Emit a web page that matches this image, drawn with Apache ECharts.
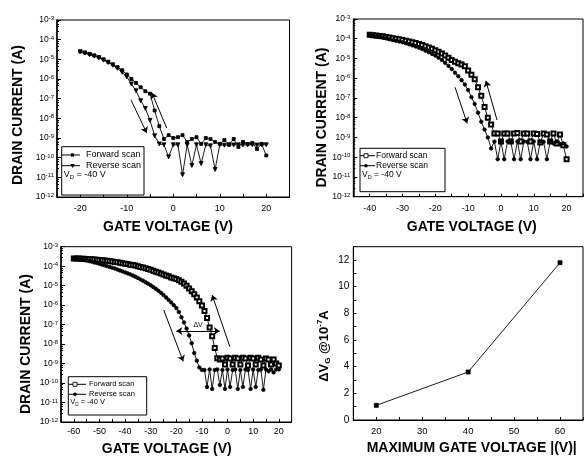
<!DOCTYPE html>
<html><head><meta charset="utf-8">
<script src="https://cdn.jsdelivr.net/npm/echarts@6/dist/echarts.min.js"></script>
<style>html,body{margin:0;padding:0;background:#fff}#c{width:586px;height:457px}</style>
</head><body><div id="c"></div>
<script>
// ---------- data ----------
const gateV1 = [-20,-19,-18,-17,-16,-15,-14,-13,-12,-11,-10,-9,-8,-7,-6,-5,-4,-3,-2,-1,0,1,2,3,4,5,6,7,8,9,10,11,12,13,14,15,16,17,18,19,20];
const fwd1 = [2.5e-5,2.2e-5,1.9e-5,1.6e-5,1.3e-5,1.0e-5,7.6e-6,5.6e-6,4.0e-6,2.8e-6,1.7e-6,1.0e-6,6.3e-7,3.8e-7,2.4e-7,1.8e-7,2.5e-8,4.0e-9,8.9e-10,1.4e-9,
  1.0e-9,1.1e-9,1.4e-9,6.3e-10,8.9e-10,1.1e-9,5.0e-10,1.0e-9,8.9e-10,6.3e-10,5.0e-10,7.9e-10,4.5e-10,8.9e-10,3.5e-10,6.3e-10,5.0e-10,5.6e-10,2.8e-10,5.0e-10,1.3e-10];
const rev1 = [2.4e-5,2.1e-5,1.7e-5,1.45e-5,1.2e-5,9.1e-6,6.9e-6,5.0e-6,3.5e-6,2.2e-6,1.3e-6,5.6e-7,2.5e-7,7.9e-8,3.2e-8,7.9e-9,1.3e-9,5.0e-10,4.5e-10,1.1e-10,
  4.5e-10,4.5e-10,1.35e-11,4.5e-10,4.0e-11,4.5e-10,5.0e-11,4.5e-10,4.0e-10,2.5e-11,4.5e-10,4.3e-10,4.5e-10,4.4e-10,4.5e-10,4.4e-10,4.5e-10,4.5e-10,4.4e-10,4.5e-10,4.5e-10];

const gateV2 = [-40,-39,-38,-37,-36,-35,-34,-33,-32,-31,-30,-29,-28,-27,-26,-25,-24,-23,-22,-21,-20,-19,-18,-17,-16,-15,-14,-13,-12,-11,-10,-9,-8,-7,-6,-5,-4,-3,-2,-1,0,1,2,3,4,5,6,7,8,9,10,11,12,13,14,15,16,17,18,19,20];
const fwd2 = [1.6e-4,1.5e-4,1.45e-4,1.38e-4,1.32e-4,1.23e-4,1.15e-4,1.07e-4,1.0e-4,9.3e-5,
  8.7e-5,7.9e-5,7.2e-5,6.6e-5,6.0e-5,5.4e-5,4.8e-5,4.2e-5,3.6e-5,3.1e-5,
  2.6e-5,2.2e-5,1.8e-5,1.4e-5,1.1e-5,8.3e-6,6.9e-6,5.8e-6,5.0e-6,4.0e-6,
  2.5e-6,1.5e-6,8.9e-7,3.5e-7,1.3e-7,3.5e-8,1.0e-8,4.5e-9,1.6e-9,1.6e-9,
  6.3e-10,1.6e-9,1.6e-9,6.3e-10,1.6e-9,1.7e-9,6.3e-10,1.6e-9,1.6e-9,6.3e-10,1.6e-9,1.5e-9,5.6e-10,1.6e-9,1.4e-9,6.3e-10,1.6e-9,5.0e-10,1.4e-9,4.0e-10,7.9e-11];
const rev2 = [1.5e-4,1.4e-4,1.3e-4,1.23e-4,1.15e-4,1.05e-4,9.5e-5,8.7e-5,7.9e-5,7.2e-5,
  6.6e-5,5.9e-5,5.2e-5,4.6e-5,4.0e-5,3.5e-5,3.0e-5,2.5e-5,2.1e-5,1.7e-5,
  1.4e-5,1.1e-5,8.3e-6,6.0e-6,4.2e-6,2.9e-6,1.9e-6,1.26e-6,7.9e-7,4.8e-7,
  2.5e-7,1.1e-7,5.0e-8,1.8e-8,6.3e-9,2.5e-9,1.0e-9,2.8e-10,6.2e-10,7.9e-11,
  6.2e-10,7.9e-11,6.3e-10,6.0e-10,7.9e-11,6.3e-10,7.9e-11,6.3e-10,6.0e-10,7.9e-11,6.3e-10,7.9e-11,6.3e-10,6.0e-10,7.9e-11,6.3e-10,5.0e-10,6.3e-10,4.5e-10,5.0e-10,3.5e-10];

const gateV3 = [-60,-59,-58,-57,-56,-55,-54,-53,-52,-51,-50,-49,-48,-47,-46,-45,-44,-43,-42,-41,-40,-39,-38,-37,-36,-35,-34,-33,-32,-31,-30,-29,-28,-27,-26,-25,-24,-23,-22,-21,-20,-19,-18,-17,-16,-15,-14,-13,-12,-11,-10,-9,-8,-7,-6,-5,-4,-3,-2,-1,0,1,2,3,4,5,6,7,8,9,10,11,12,13,14,15,16,17,18,19,20];
const fwd3 = [2.5e-4,2.45e-4,2.45e-4,2.4e-4,2.4e-4,2.35e-4,2.3e-4,2.24e-4,2.2e-4,2.14e-4,
  2.1e-4,2.04e-4,1.95e-4,1.9e-4,1.82e-4,1.74e-4,1.66e-4,1.58e-4,1.51e-4,1.41e-4,
  1.35e-4,1.29e-4,1.2e-4,1.15e-4,1.07e-4,1.0e-4,9.1e-5,8.5e-5,7.8e-5,7.1e-5,
  6.5e-5,5.9e-5,5.2e-5,4.7e-5,4.2e-5,3.7e-5,3.3e-5,3.0e-5,2.6e-5,2.4e-5,
  2.2e-5,1.9e-5,1.6e-5,1.3e-5,1.0e-5,7.2e-6,5.2e-6,3.6e-6,2.5e-6,1.6e-6,
  9.5e-7,5.0e-7,2.2e-7,7.1e-8,2.5e-8,6.3e-9,1.9e-9,1.6e-9,1.8e-9,8.9e-10,
  2.0e-9,1.8e-9,8.9e-10,2.0e-9,1.8e-9,8.9e-10,2.0e-9,1.8e-9,7.9e-10,2.0e-9,1.8e-9,8.9e-10,2.0e-9,1.6e-9,7.9e-10,1.8e-9,1.6e-9,8.9e-10,1.6e-9,1.0e-9,7.9e-10];
const rev3 = [2.4e-4,2.35e-4,2.24e-4,2.14e-4,2.04e-4,1.95e-4,1.82e-4,1.7e-4,1.55e-4,1.45e-4,
  1.32e-4,1.2e-4,1.1e-4,1.0e-4,9.1e-5,8.3e-5,7.6e-5,6.8e-5,6.0e-5,5.4e-5,
  4.8e-5,4.3e-5,3.8e-5,3.3e-5,2.9e-5,2.5e-5,2.1e-5,1.8e-5,1.5e-5,1.26e-5,
  1.05e-5,8.5e-6,6.9e-6,5.5e-6,4.3e-6,3.3e-6,2.5e-6,1.86e-6,1.38e-6,1.0e-6,
  7.1e-7,4.5e-7,2.4e-7,1.3e-7,6.3e-8,2.8e-8,1.1e-8,3.5e-9,1.4e-9,6.3e-10,
  4.7e-10,4.7e-10,6.3e-11,5.0e-10,5.0e-11,4.7e-10,5.0e-10,7.9e-11,4.7e-10,5.0e-11,
  5.0e-10,6.3e-11,4.7e-10,5.0e-10,5.0e-11,4.7e-10,6.3e-11,5.0e-10,4.7e-10,5.0e-11,5.0e-10,6.3e-11,4.7e-10,5.0e-10,4.5e-11,5.0e-10,4.0e-10,5.0e-10,3.5e-10,5.0e-10,5.0e-10];

const maxGateV = [20, 40, 60];
const deltaVg = [1.1, 3.6, 11.8];

// annotation arrows (data coordinates: [V, I])
const arrows1 = [[[-9.1, 8.7e-8], [-5.7, 1.8e-9]], [[-1.4, 3.2e-9], [-4.6, 2.0e-7]]];
const arrows2 = [[[-14, 3.5e-7], [-10.3, 5.2e-9]], [[-1.2, 7.6e-9], [-4.6, 7.4e-7]]];
const arrows3 = [[[-24.9, 5.6e-7], [-17.3, 1.3e-9]], [[0.9, 7.4e-9], [-6, 3.3e-6]]];
const dvLine3 = [[-20, 4.7e-8], [-3, 4.7e-8]];

const legendNames = ['Forward scan', 'Reverse scan'];
const vdText = '-40 V';

// ---------- chart ----------
const FONT = 'Liberation Sans, Arial, sans-serif';
const chart = echarts.init(document.getElementById('c'));
const pair = (xs, ys) => xs.map((x, i) => [x, ys[i]]);

function logY(gi) {
  return {
    type: 'log', logBase: 10, min: 1e-12, max: 1e-3, splitNumber: 9, gridIndex: gi,
    axisLine: { show: true, onZero: false, lineStyle: { color: '#000', width: 1.5 } },
    axisTick: { inside: true, length: 4, lineStyle: { color: '#000' } },
    minorTick: { show: true, splitNumber: 5, length: 2, lineStyle: { color: '#000' } },
    splitLine: { show: false },
    axisLabel: {
      margin: 3, color: '#000', fontFamily: FONT,
      formatter: v => '{b|10}{s|' + Math.round(Math.log10(v)) + '}',
      rich: {
        b: { fontSize: 8.5, fontFamily: FONT, color: '#000', lineHeight: 9, verticalAlign: 'bottom' },
        s: { fontSize: 6, fontFamily: FONT, color: '#000', lineHeight: 6, padding: [0, 0, 5, 0], verticalAlign: 'top' }
      }
    }
  };
}
function linX(gi, min, max, fs, margin) {
  return {
    type: 'value', gridIndex: gi, min: min, max: max, interval: 5,
    axisLine: { onZero: false, lineStyle: { color: '#000' } },
    axisTick: { inside: true, length: 3, lineStyle: { color: '#000' } },
    splitLine: { show: false },
    axisLabel: { margin: margin, fontSize: fs, fontFamily: FONT, color: '#000',
      formatter: v => (v % 10 === 0 ? String(v) : '') }
  };
}
function arrowLines(list) {
  return list.map(a => [{ coord: a[0], symbol: 'none' }, { coord: a[1], symbol: 'arrow' }]);
}
function curve(name, gi, xs, ys, sym, size, rot, extra) {
  const s = {
    type: 'line', name: name, xAxisIndex: gi, yAxisIndex: gi, data: pair(xs, ys),
    symbol: sym, symbolSize: size, symbolRotate: rot || 0, showAllSymbol: true,
    lineStyle: { color: '#000', width: 0.9 }, itemStyle: { color: '#000', borderColor: '#000', borderWidth: 0.8 },
    emphasis: { disabled: true }, animation: false
  };
  if (extra) s.markLine = extra;
  return s;
}
function mk(list, more) {
  return {
    silent: true, animation: false, symbolSize: 6,
    lineStyle: { color: '#000', width: 1, type: 'solid' },
    label: { show: false },
    emphasis: { disabled: true },
    data: arrowLines(list).concat(more || [])
  };
}

// legend graphics
function marker(kind, cx, cy) {
  if (kind === 'rectFill') return { type: 'rect', shape: { x: cx - 1.6, y: cy - 1.6, width: 3.2, height: 3.2 }, style: { fill: '#000' } };
  if (kind === 'rectEmpty') return { type: 'rect', shape: { x: cx - 2, y: cy - 2, width: 4, height: 4 }, style: { fill: '#fff', stroke: '#000', lineWidth: 0.9 } };
  if (kind === 'circle') return { type: 'circle', shape: { cx: cx, cy: cy, r: 1.8 }, style: { fill: '#000' } };
  return { type: 'polygon', shape: { points: [[cx - 2.2, cy - 1.6], [cx + 2.2, cy - 1.6], [cx, cy + 2.2]] }, style: { fill: '#000' } };
}
function legendBox(b, rows, lineX, markX, textX, fs, kinds) {
  const els = [{ type: 'rect', shape: { x: b[0], y: b[1], width: b[2], height: b[3] }, style: { fill: '#fff', stroke: '#000', lineWidth: 1 }, z: 100 }];
  for (let i = 0; i < 2; i++) {
    els.push({ type: 'line', shape: { x1: lineX[0], y1: rows[i], x2: lineX[1], y2: rows[i] }, style: { stroke: '#000', lineWidth: 1 }, z: 101 });
    const m = marker(kinds[i], markX, rows[i]); m.z = 102; els.push(m);
    els.push({ type: 'text', x: textX, y: rows[i], z: 102, style: { text: legendNames[i], fontSize: fs, fontFamily: FONT, fill: '#000', verticalAlign: 'middle', align: 'left' } });
  }
  els.push({ type: 'text', x: b[0] + 2, y: rows[2], z: 102, style: {
    text: '{b|V}{sub|D}{b| = ' + vdText + '}', verticalAlign: 'middle', align: 'left', fill: '#000',
    rich: { b: { fontSize: fs, fontFamily: FONT, fill: '#000', lineHeight: 10, verticalAlign: 'top' },
            sub: { fontSize: fs - 3, fontFamily: FONT, fill: '#000', lineHeight: 6, padding: [4, 0, 0, 0], verticalAlign: 'top' } } } });
  return els;
}
function title(text, x, y, rotate, fs) {
  return { type: 'text', x: x, y: y, rotation: rotate ? Math.PI / 2 : 0, z: 50,
    style: { text: text, fontSize: fs || 14, fontWeight: 'bold', fontFamily: FONT, fill: '#000', align: 'center', verticalAlign: 'middle' } };
}

const grids = [
  { left: 57, top: 20, width: 232.5, height: 177 },
  { left: 353.3, top: 19, width: 242.2, height: 177.7 },
  { left: 61, top: 246.7, width: 230.6, height: 175.3 },
  { left: 353.3, top: 246.7, width: 238.5, height: 173.3 }
].map(g => Object.assign({ show: true, borderColor: '#000', borderWidth: 1, backgroundColor: 'transparent', containLabel: false }, g));

const y4 = {
  type: 'value', gridIndex: 3, min: 0, max: 13, interval: 1,
  axisLine: { show: true, onZero: false, lineStyle: { color: '#000' } },
  axisTick: { inside: true, length: 3, lineStyle: { color: '#000' } },
  splitLine: { show: false },
  axisLabel: { margin: 4, fontSize: 10, fontFamily: FONT, color: '#000', formatter: v => (v % 2 === 0 ? String(v) : '') }
};

const dvItem = [{ coord: dvLine3[0], symbol: 'arrow' }, { coord: dvLine3[1], symbol: 'arrow',
  label: { show: true, formatter: 'ΔV', position: 'middle', fontSize: 7, fontFamily: FONT, color: '#000', distance: 2 } }];

const option = {
  animation: false,
  backgroundColor: '#fff',
  grid: grids,
  xAxis: [linX(0, -25, 25, 9, 7), linX(1, -45, 25, 9, 7), linX(2, -65, 25, 9, 5), linX(3, 15, 65, 9.5, 6)],
  yAxis: [logY(0), logY(1), logY(2), y4],
  series: [
    curve('Forward scan', 0, gateV1, fwd1, 'rect', 3, 0, mk(arrows1)),
    curve('Reverse scan', 0, gateV1, rev1, 'triangle', 4, 180),
    curve('Forward scan', 1, gateV2, fwd2, 'emptyRect', 4, 0, mk(arrows2)),
    curve('Reverse scan', 1, gateV2, rev2, 'circle', 3.5),
    curve('Forward scan', 2, gateV3, fwd3, 'emptyRect', 4, 0, mk(arrows3, [dvItem])),
    curve('Reverse scan', 2, gateV3, rev3, 'circle', 3.5),
    curve('ΔVG', 3, maxGateV, deltaVg, 'rect', 4)
  ],
  graphic: [].concat(
    legendBox([61.7, 146.7, 82.3, 48.3], [155, 165.7, 175], [62, 80], 72.5, 86, 9, ['rectFill', 'triDown']),
    legendBox([360, 148.3, 85, 43.4], [155.7, 165.7, 175], [360, 375], 366, 376, 8.5, ['rectEmpty', 'circle']),
    legendBox([68.3, 376.7, 78.4, 38.3], [384.3, 394.3, 403.3], [69, 86], 75, 89, 7.5, ['rectEmpty', 'circle']),
    [
      title('DRAIN CURRENT (A)', 18, 115, true, 14),
      title('GATE VOLTAGE (V)', 168, 227, false, 14),
      title('DRAIN CURRENT (A)', 322.5, 117.5, true, 14),
      title('GATE VOLTAGE (V)', 471.7, 227, false, 14),
      title('DRAIN CURRENT (A)', 25.8, 344, true, 14),
      title('GATE VOLTAGE (V)', 166.7, 449, false, 14),
      title('MAXIMUM GATE VOLTAGE |(V)|', 471.7, 448.5, false, 14),
      { type: 'text', x: 324, y: 346, rotation: Math.PI / 2, z: 50, style: {
        text: '{b|ΔV}{sub|G}{b| @10}{sup|-7}{b|A}', align: 'center', verticalAlign: 'middle', fill: '#000',
        rich: {
          b: { fontSize: 13, fontWeight: 'bold', fontFamily: FONT, fill: '#000', lineHeight: 14, verticalAlign: 'middle' },
          sub: { fontSize: 8, fontWeight: 'bold', fontFamily: FONT, fill: '#000', lineHeight: 8, padding: [8, 0, 0, 0], verticalAlign: 'middle' },
          sup: { fontSize: 8, fontWeight: 'bold', fontFamily: FONT, fill: '#000', lineHeight: 8, padding: [0, 0, 8, 0], verticalAlign: 'middle' }
        } } }
    ]
  )
};
chart.setOption(option);
</script>
</body></html>
